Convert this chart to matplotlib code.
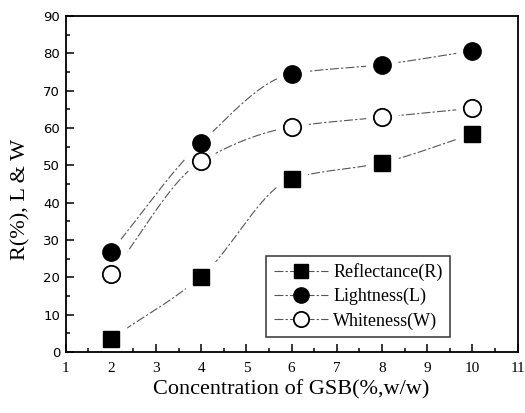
import matplotlib

matplotlib.use("Agg", force=True)

import matplotlib.pyplot as plt
import numpy as np
from matplotlib.lines import Line2D
from matplotlib.ticker import MultipleLocator

# data
conc = [2, 4, 6, 8, 10]
reflectance = [3.5, 20.2, 46.4, 50.7, 58.4]
lightness = [26.8, 56.1, 74.5, 77.0, 80.7]
whiteness = [20.8, 51.1, 60.3, 62.9, 65.3]

series_names = ["Reflectance(R)", "Lightness(L)", "Whiteness(W)"]

SERIF = "Liberation Serif"
SANS = "DejaVu Sans"


def smooth(x, y, n=40):
    """Monotone cubic (PCHIP-style) curve through the points, for the connecting line."""
    x = np.asarray(x, float)
    y = np.asarray(y, float)
    h = np.diff(x)
    d = np.diff(y) / h
    m = np.zeros_like(y)
    for i in range(1, len(x) - 1):
        if d[i - 1] * d[i] > 0:
            w1 = 2 * h[i] + h[i - 1]
            w2 = h[i] + 2 * h[i - 1]
            m[i] = (w1 + w2) / (w1 / d[i - 1] + w2 / d[i])
    m[0] = d[0]
    m[-1] = d[-1]
    xs, ys = [], []
    for i in range(len(x) - 1):
        t = np.linspace(0, 1, n)
        h00 = 2 * t**3 - 3 * t**2 + 1
        h10 = t**3 - 2 * t**2 + t
        h01 = -2 * t**3 + 3 * t**2
        h11 = t**3 - t**2
        xs.append(x[i] + t * h[i])
        ys.append(h00 * y[i] + h10 * h[i] * m[i] + h01 * y[i + 1] + h11 * h[i] * m[i + 1])
    return np.concatenate(xs), np.concatenate(ys)


fig = plt.figure(figsize=(5.25, 4.13), dpi=100)
ax = fig.add_axes([0.125, 0.148, 0.861, 0.813])

styles = [
    dict(marker="s", mfc="black", mec="black", ms=12),
    dict(marker="o", mfc="black", mec="black", ms=12.5),
    dict(marker="o", mfc="white", mec="black", ms=12.5, mew=1.3),
]
line_kw = dict(color="#555555", lw=0.8, linestyle=(0, (8, 2, 2, 2)))

for vals, st in zip([reflectance, lightness, whiteness], styles):
    sx, sy = smooth(conc, vals)
    ax.plot(sx, sy, zorder=1, **line_kw)
    # white halo so the line stops short of each marker
    ax.plot(conc, vals, linestyle="none", marker=st["marker"], ms=st["ms"] * 1.8,
            mfc="white", mec="white", zorder=2)

for vals, st in zip([reflectance, lightness, whiteness], styles):
    ax.plot(conc, vals, linestyle="none", zorder=3, **st)

ax.set_xlim(1, 11)
ax.set_ylim(0, 90)
ax.xaxis.set_major_locator(MultipleLocator(1))
ax.xaxis.set_minor_locator(MultipleLocator(0.5))
ax.yaxis.set_major_locator(MultipleLocator(10))
ax.yaxis.set_minor_locator(MultipleLocator(5))
ax.tick_params(which="both", direction="in", top=False, right=False, width=1.1)
ax.tick_params(which="major", length=6)
ax.tick_params(which="minor", length=3)
ax.tick_params(axis="x", pad=7)
ax.tick_params(axis="y", pad=4)
for lab in ax.get_xticklabels():
    lab.set_fontfamily(SERIF)
    lab.set_fontsize(11)
for lab in ax.get_yticklabels():
    lab.set_fontfamily(SANS)
    lab.set_fontsize(9.5)
for sp in ax.spines.values():
    sp.set_linewidth(1.3)

ax.set_xlabel("Concentration of GSB(%,w/w)", fontfamily=SERIF, fontsize=16, labelpad=4)
ax.set_ylabel("R(%), L & W", fontfamily=SERIF, fontsize=16)
ax.yaxis.set_label_coords(-0.078, 0.455)

handles = [
    Line2D([], [], **line_kw, **st) for st in
    [dict(marker="s", mfc="black", mec="black", ms=10),
     dict(marker="o", mfc="black", mec="black", ms=11),
     dict(marker="o", mfc="white", mec="black", ms=11, mew=1.3)]
]
leg = ax.legend(handles, series_names, loc="lower left", bbox_to_anchor=(0.444, 0.045),
                prop={"family": SERIF, "size": 13}, frameon=True, fancybox=False,
                edgecolor="black", handlelength=3.0, borderpad=0.4, labelspacing=0.38,
                handletextpad=0.3, borderaxespad=0)
leg.get_frame().set_linewidth(1.1)

fig.savefig("out.png", dpi=100)
